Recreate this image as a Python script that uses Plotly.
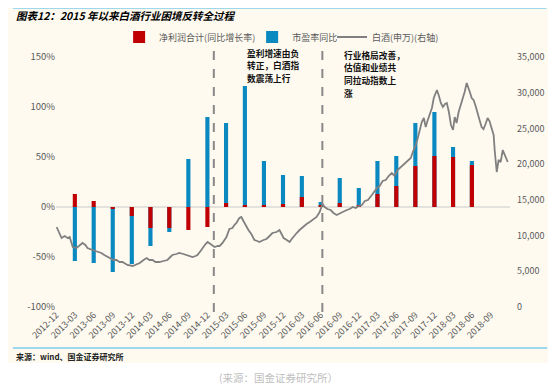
import plotly.graph_objects as go

# ---------------- data ----------------
quarters = ["2013-03-31", "2013-06-30", "2013-09-30", "2013-12-31", "2014-03-31", "2014-06-30",
            "2014-09-30", "2014-12-31", "2015-03-31", "2015-06-30", "2015-09-30", "2015-12-31",
            "2016-03-31", "2016-06-30", "2016-09-30", "2016-12-31", "2017-03-31", "2017-06-30",
            "2017-09-30", "2017-12-31", "2018-03-31", "2018-06-30"]
profit_growth = [13, 6, -2, -9, -21, -21, -23, -20, 4, 2, 2, 3,
                 10, 2, 4, 2, 13, 21, 41, 51, 50, 42]
pe_change = [-54, -56, -65, -57, -39, -25, 48, 90, 84, 121, 46, 32,
             31, 5, 29, 19, 46, 51, 84, 95, 60, 46]

tick_dates = ["2012-12-31", "2013-03-31", "2013-06-30", "2013-09-30", "2013-12-31", "2014-03-31",
              "2014-06-30", "2014-09-30", "2014-12-31", "2015-03-31", "2015-06-30", "2015-09-30",
              "2015-12-31", "2016-03-31", "2016-06-30", "2016-09-30", "2016-12-31", "2017-03-31",
              "2017-06-30", "2017-09-30", "2017-12-31", "2018-03-31", "2018-06-30", "2018-09-30"]
tick_labels = ["2012-12", "2013-03", "2013-06", "2013-09", "2013-12", "2014-03", "2014-06", "2014-09",
               "2014-12", "2015-03", "2015-06", "2015-09", "2015-12", "2016-03", "2016-06", "2016-09",
               "2016-12", "2017-03", "2017-06", "2017-09", "2017-12", "2018-03", "2018-06", "2018-09"]

idx_dates = [
    "2013-01-02", "2013-01-26", "2013-02-10", "2013-02-24", "2013-03-06", "2013-03-21", "2013-04-08",
    "2013-04-22", "2013-05-07", "2013-05-21", "2013-05-31", "2013-06-24", "2013-07-18", "2013-08-06",
    "2013-08-20", "2013-09-13", "2013-10-04", "2013-10-18", "2013-11-02", "2013-11-16", "2013-12-10",
    "2014-01-04", "2014-01-24", "2014-02-07", "2014-02-26", "2014-03-13", "2014-03-26", "2014-04-10",
    "2014-04-24", "2014-05-13", "2014-06-02", "2014-06-21", "2014-07-05", "2014-07-15", "2014-08-03",
    "2014-08-17", "2014-09-06", "2014-09-21", "2014-10-06", "2014-10-20", "2014-11-04", "2014-11-13",
    "2014-11-28", "2014-12-07", "2014-12-22", "2015-01-01", "2015-01-21", "2015-02-04", "2015-02-19",
    "2015-02-28", "2015-03-14", "2015-03-24", "2015-04-02", "2015-04-16", "2015-05-01", "2015-05-10",
    "2015-05-20", "2015-06-03", "2015-06-13", "2015-06-23", "2015-07-07", "2015-07-17", "2015-07-31",
    "2015-08-15", "2015-08-29", "2015-09-08", "2015-09-28", "2015-10-12", "2015-10-27", "2015-11-10",
    "2015-11-30", "2015-12-14", "2015-12-24", "2016-01-03", "2016-01-18", "2016-02-01", "2016-02-11",
    "2016-02-25", "2016-03-06", "2016-03-20", "2016-03-30", "2016-04-13", "2016-04-23", "2016-05-08",
    "2016-05-22", "2016-06-10", "2016-06-25", "2016-07-04", "2016-07-09", "2016-07-19", "2016-08-02",
    "2016-08-17", "2016-08-31", "2016-09-15", "2016-09-30", "2016-10-14", "2016-11-03", "2016-11-17",
    "2016-12-02", "2016-12-16", "2016-12-31", "2017-01-15", "2017-01-29", "2017-02-13", "2017-03-04",
    "2017-03-19", "2017-03-29", "2017-04-11", "2017-04-25", "2017-05-10", "2017-05-24", "2017-06-08",
    "2017-06-22", "2017-07-06", "2017-07-26", "2017-08-09", "2017-08-24", "2017-09-08", "2017-09-18",
    "2017-10-02", "2017-10-12", "2017-10-21", "2017-10-31", "2017-11-10", "2017-11-19", "2017-11-29",
    "2017-12-09", "2017-12-19", "2017-12-28", "2018-01-07", "2018-01-12", "2018-01-22", "2018-01-31",
    "2018-02-10", "2018-02-20", "2018-03-01", "2018-03-11", "2018-03-21", "2018-03-31", "2018-04-08",
    "2018-04-17", "2018-04-27", "2018-05-07", "2018-05-16", "2018-05-26", "2018-06-05", "2018-06-10",
    "2018-06-20", "2018-06-29", "2018-07-08", "2018-07-18", "2018-07-27", "2018-08-06", "2018-08-16",
    "2018-08-25", "2018-09-04", "2018-09-14", "2018-09-23", "2018-10-04", "2018-10-13", "2018-10-18",
    "2018-10-23", "2018-10-28", "2018-11-06", "2018-11-16", "2018-11-26", "2018-12-05", "2018-12-20"]
idx_values = [
    11200, 9660, 9940, 9660, 9800, 8400, 8260,
    8540, 8960, 8680, 8260, 7980, 7700, 7560,
    7280, 6860, 6580, 6580, 6300, 6300, 5880,
    5740, 6020, 6160, 6580, 6860, 6580, 6580,
    6300, 6300, 6440, 6580, 7000, 7280, 7420,
    7560, 7420, 7280, 7140, 7000, 7140, 7280,
    7840, 8260, 8820, 9100, 8680, 8400, 8540,
    8540, 8960, 9380, 9800, 10920, 11060, 11480,
    11760, 12460, 12600, 12040, 11200, 10780, 10220,
    9380, 9240, 9100, 9380, 9520, 9940, 10360,
    10500, 10780, 10220, 9660, 9380, 9100, 9520,
    10080, 10360, 10780, 11060, 11340, 11620, 11900,
    12180, 12600, 13300, 14000, 14420, 14000, 13720,
    13580, 13160, 12880, 13160, 13300, 13580, 13720,
    14000, 13860, 14140, 14280, 14840, 14980, 15680,
    16240, 16660, 16940, 17640, 17780, 18340, 18760,
    18340, 19180, 19740, 20160, 20580, 20860, 21700,
    22680, 23660, 24780, 25900, 26460, 25200, 26180,
    27160, 27860, 29260, 30240, 30380, 29540, 28560,
    28000, 28420, 28560, 27300, 25480, 24780, 26600,
    25760, 27300, 28280, 28980, 30100, 31360, 30800,
    30100, 29260, 28980, 28140, 27020, 26180, 25200,
    24920, 25620, 26460, 26040, 24780, 24080, 21980,
    19880, 18900, 20580, 20300, 21980, 21280, 20300]

phase_dates = ["2015-01-31", "2016-07-08"]

series_names = ["净利润合计(同比增长率)", "市盈率同比", "白酒(申万)(右轴)"]
title_text = "图表12：2015 年以来白酒行业困境反转全过程"
note1_lines = ["盈利增速由负", "转正，白酒指", "数震荡上行"]
note2_lines = ["行业格局改善，", "估值和业绩共", "同拉动指数上", "涨"]

# ---------------- figure ----------------
RED = "#C00000"
BLUE = "#0A88C0"
GREY = "#808080"
BG = "#FEFAF0"
TXT = "#595959"
FONT = "Noto Sans CJK SC"
bar_w = 20 * 24 * 3600 * 1000
PLOT_H = 250.0
LINE_GAP = 12.7

fig = go.Figure()
fig.add_trace(go.Bar(x=quarters, y=pe_change, name=series_names[1], marker_color=BLUE,
                     marker_line_width=0, width=bar_w, legend="legend2"))
fig.add_trace(go.Bar(x=quarters, y=profit_growth, name=series_names[0], marker_color=RED,
                     marker_line_width=0, width=bar_w, legend="legend"))
fig.add_trace(go.Scatter(x=idx_dates, y=idx_values, name=series_names[2], yaxis="y2",
                         mode="lines", line=dict(color=GREY, width=1.8), legend="legend3"))

shapes = []
for d in phase_dates:
    shapes.append(dict(type="line", xref="x", yref="paper", x0=d, x1=d, y0=-0.02, y1=1.05,
                       line=dict(color="#888888", width=2, dash="dash")))
# full cream background, extended past the page edges
shapes.append(dict(type="rect", xref="paper", yref="paper", x0=-0.3, x1=1.3, y0=-0.224, y1=1.4,
                   fillcolor=BG, line_width=0, layer="below"))
# header / footer rules
shapes.append(dict(type="line", xref="paper", yref="paper", x0=-0.095, x1=1.08, y0=1.196, y1=1.196,
                   line=dict(color="#7FCBEB", width=1.5)))
shapes.append(dict(type="line", xref="paper", yref="paper", x0=-0.095, x1=1.082, y0=-0.164, y1=-0.164,
                   line=dict(color="#7FCBEB", width=1.5)))
fig.update_layout(shapes=shapes)

ann = [
    dict(text="<b><i>" + title_text + "</i></b>", x=-0.093, y=1.168, xref="paper", yref="paper",
         xanchor="left", yanchor="middle", showarrow=False, font=dict(size=10.5, color="#000000", family=FONT)),
    dict(text="<b>来源：wind、国金证券研究所</b>", x=-0.093, y=-0.196, xref="paper", yref="paper",
         xanchor="left", yanchor="middle", showarrow=False, font=dict(size=8, color="#222222", family=FONT)),
    dict(text="(来源：国金证券研究所）", x=0.49, y=-0.28, xref="paper", yref="paper",
         xanchor="center", yanchor="middle", showarrow=False, font=dict(size=10.5, color="#C0C0C0", family=FONT)),
]
for i, line in enumerate(note1_lines):
    ann.append(dict(text="<b>" + line + "</b>", x=0.418, y=1.0 + (4 - LINE_GAP * i) / PLOT_H,
                    xref="paper", yref="paper", xanchor="left", yanchor="middle", showarrow=False,
                    borderpad=0, font=dict(size=8.7, color="#111111", family=FONT)))
for i, line in enumerate(note2_lines):
    ann.append(dict(text="<b>" + line + "</b>", x=0.632, y=1.0 + (2 - LINE_GAP * i) / PLOT_H,
                    xref="paper", yref="paper", xanchor="left", yanchor="middle", showarrow=False,
                    borderpad=0, font=dict(size=8.7, color="#111111", family=FONT)))
fig.update_layout(annotations=ann)

leg_common = dict(orientation="h", y=1.08, xanchor="left", yanchor="middle",
                  bgcolor="rgba(0,0,0,0)", font=dict(size=9, color=TXT), itemwidth=30)

# The page body adds an 8px offset, so the figure is 8px smaller and margins shifted accordingly.
fig.update_layout(
    width=548, height=376,
    margin=dict(l=48, r=46, t=49, b=77, autoexpand=False),
    paper_bgcolor="white", plot_bgcolor=BG,
    barmode="overlay",
    font=dict(family=FONT, size=10, color=TXT),
    showlegend=True,
    legend=dict(x=0.139, **leg_common),
    legend2=dict(x=0.432, **leg_common),
    legend3=dict(x=0.608, **leg_common),
    xaxis=dict(type="date", range=["2012-12-30", "2018-12-31"], tickvals=tick_dates, ticktext=tick_labels,
               tickangle=-45, tickfont=dict(size=9, color=TXT), showgrid=False, zeroline=False,
               showline=False, ticks=""),
    yaxis=dict(range=[-100, 150], tickvals=[-100, -50, 0, 50, 100, 150],
               ticktext=["-100%", "-50%", "0%", "50%", "100%", "150%"], showgrid=False,
               zeroline=True, zerolinecolor="#E4E2DC", zerolinewidth=1.5, showline=False,
               tickfont=dict(size=9.5, color=TXT)),
    yaxis2=dict(range=[0, 35000], tickvals=[0, 5000, 10000, 15000, 20000, 25000, 30000, 35000],
                tickformat=",d", overlaying="y", side="right", showgrid=False, zeroline=False,
                showline=False, ticklabelstandoff=6, tickfont=dict(size=9, color=TXT)),
)

fig.write_html("out.html")
